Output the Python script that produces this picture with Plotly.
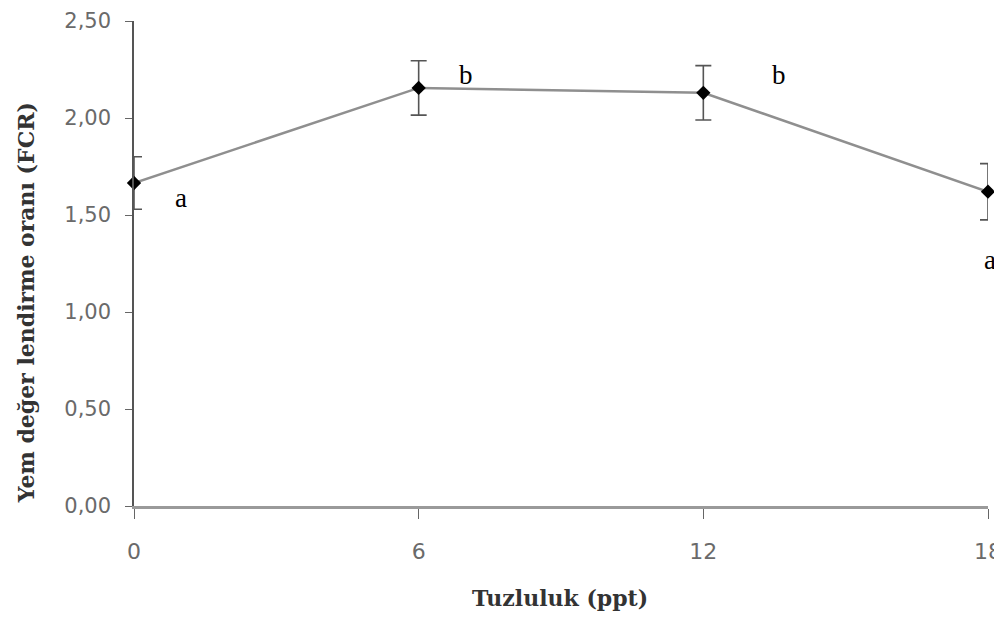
import plotly.graph_objects as go

salinity = [0, 6, 12, 18]
fcr = [1.665, 2.155, 2.13, 1.62]
fcr_err = [0.135, 0.14, 0.14, 0.145]
letters = ["a", "b", "b", "a"]
letter_x = [1.0, 7.0, 13.6, 18.0]
letter_y = [1.59, 2.22, 2.22, 1.27]
letter_xshift = [0, 0, 0, 2]

x_title = "Tuzluluk (ppt)"
y_title = "Yem değer lendirme oranı (FCR)"

fig = go.Figure()
fig.add_trace(go.Scatter(
    x=salinity, y=fcr, mode="lines+markers",
    line=dict(color="#8f8f8f", width=2.5),
    marker=dict(symbol="diamond", size=11, color="black"),
    error_y=dict(type="data", array=fcr_err, visible=True, color="#555555", thickness=1.6, width=8),
    cliponaxis=False, showlegend=False,
))

for lx, ly, lt, xs in zip(letter_x, letter_y, letters, letter_xshift):
    fig.add_annotation(
        x=lx, y=ly, xref="x", yref="y", text=lt, showarrow=False, xshift=xs,
        xanchor="center", yanchor="middle",
        font=dict(family="Liberation Serif", size=27, color="black"),
    )

fig.add_annotation(
    text="<b>" + x_title + "</b>", xref="paper", yref="paper",
    x=0.4988, y=-0.19, xanchor="center", yanchor="middle", showarrow=False,
    font=dict(family="DejaVu Serif", size=22, color="#333"),
)
fig.add_annotation(
    text="<b>" + y_title + "</b>", xref="paper", yref="paper",
    x=-0.1265, y=0.42, xanchor="center", yanchor="middle", showarrow=False,
    textangle=-90,
    font=dict(family="DejaVu Serif", size=22, color="#333"),
)

fig.update_layout(
    width=994, height=612,
    margin=dict(l=126, r=14, t=13, b=114),
    paper_bgcolor="white", plot_bgcolor="white",
    separators=",.",
    xaxis=dict(
        range=[0, 18], tickvals=[0, 6, 12, 18], ticks="outside", ticklen=10,
        tickcolor="#666", showgrid=False, zeroline=False, automargin=False,
        showline=True, linecolor="#9a9a9a", linewidth=3,
        ticklabelstandoff=14, ticklabeloverflow="allow",
        tickfont=dict(family="DejaVu Sans", size=22, color="#6a6a6a"),
    ),
    yaxis=dict(
        range=[0, 2.5], tickvals=[0, 0.5, 1.0, 1.5, 2.0, 2.5], tickformat=".2f",
        ticks="outside", ticklen=7, tickcolor="#666", showgrid=False, zeroline=False,
        automargin=False, ticklabelstandoff=10, ticklabeloverflow="allow",
        showline=True, linecolor="#555", linewidth=1.5,
        tickfont=dict(family="DejaVu Sans", size=21, color="#6a6a6a"),
    ),
)
fig.write_html("out.html")
